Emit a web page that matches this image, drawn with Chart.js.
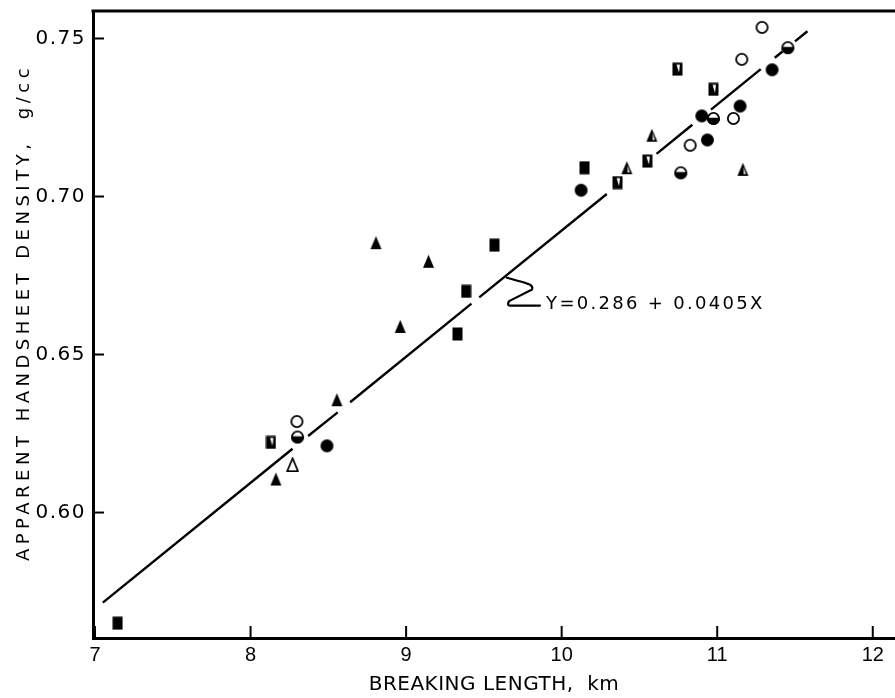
<!DOCTYPE html>
<html><head><meta charset="utf-8">
<script src="https://cdn.jsdelivr.net/npm/chart.js@4/dist/chart.umd.min.js"></script>
<style>html,body{margin:0;padding:0;background:#fff;overflow:hidden}</style>
</head><body>
<canvas id="c" width="895" height="698"></canvas>
<script>
// ---- data ----
const xTicks = [7, 8, 9, 10, 11, 12];
const yTicks = [0.60, 0.65, 0.70, 0.75];
const xTitle = 'BREAKING LENGTH,  km';
const yTitle = 'APPARENT HANDSHEET DENSITY,  g/cc';
const equationText = 'Y=0.286 + 0.0405X';

const solidSquareX = [7.145, 9.330, 9.386, 9.568, 10.147];
const solidSquareY = [0.5650, 0.6565, 0.6700, 0.6846, 0.7091];
const halfSquareX  = [8.131, 10.359, 10.551, 10.744, 10.976];
const halfSquareY  = [0.6222, 0.7044, 0.7112, 0.7403, 0.7339];
const solidTriX    = [8.163, 8.555, 8.806, 8.962, 9.144];
const solidTriY    = [0.6106, 0.6357, 0.6854, 0.6589, 0.6795];
const openTriX     = [8.270];
const openTriY     = [0.6151];
const halfTriX     = [10.419, 10.580, 11.165];
const halfTriY     = [0.7091, 0.7194, 0.7086];
const solidCircX   = [8.491, 10.125, 10.901, 10.937, 11.147, 11.353];
const solidCircY   = [0.6211, 0.7020, 0.7255, 0.7179, 0.7286, 0.7401];
const openCircX    = [8.298, 10.826, 11.104, 11.158, 11.288];
const openCircY    = [0.6288, 0.7162, 0.7247, 0.7434, 0.7535];
const halfCircX    = [8.302, 10.766, 10.976, 11.454];
const halfCircY    = [0.6239, 0.7075, 0.7247, 0.7471];

// regression line pieces (broken where it passes the symbols)
const fitX = [7.05, 8.27, null, 8.37, 8.56, null, 8.64, 9.42, null, 9.47, 10.29, null, 10.61, 10.84, null, 10.96, 11.28, null, 11.37, 11.42, null, 11.50, 11.58];
const fitY = [0.5715, 0.6202, null, 0.6242, 0.6317, null, 0.6349, 0.6661, null, 0.6681, 0.7008, null, 0.7135, 0.7227, null, 0.7275, 0.7403, null, 0.7439, 0.7459, null, 0.7491, 0.7523];

// leader squiggle from the line to the equation label
const leaderX = [9.648, 9.798, 9.810, 9.662, 9.681, 9.861];
const leaderY = [0.6743, 0.6728, 0.6706, 0.6669, 0.6655, 0.6655];
const labelX = 9.900;
const labelY = 0.6660;

// ---- marker drawings ----
function mk(w, h, fn) { const c = document.createElement('canvas'); c.width = w; c.height = h; const g = c.getContext('2d'); fn(g, w, h); return c; }
const K = '#000';
const mSolidSquare = mk(11, 14, (g, w, h) => { g.fillStyle = K; g.fillRect(0.5, 0.5, w - 1, h - 1); });
const mHalfSquare = mk(11, 14, (g, w, h) => {
  g.fillStyle = K; g.fillRect(0.5, 0.5, w - 1, h - 1);
  g.fillStyle = '#fff'; g.beginPath(); g.moveTo(4.5, 2.5); g.lineTo(8, 2.5); g.lineTo(7, 10.5); g.closePath(); g.fill();
});
function triPath(g, w, h) { g.beginPath(); g.moveTo(w / 2, 1); g.lineTo(w - 1, h - 1); g.lineTo(1, h - 1); g.closePath(); }
const mSolidTri = mk(13, 15, (g, w, h) => { g.fillStyle = K; triPath(g, w, h); g.fill(); });
const mOpenTri = mk(13, 15, (g, w, h) => { g.fillStyle = '#fff'; g.strokeStyle = K; g.lineWidth = 1.8; g.lineJoin = 'round'; triPath(g, w, h); g.fill(); g.stroke(); });
const mHalfTri = mk(13, 15, (g, w, h) => {
  g.fillStyle = K; triPath(g, w, h); g.fill();
  g.fillStyle = '#fff'; g.beginPath(); g.moveTo(w / 2 + 0.8, 5); g.lineTo(w - 3.6, h - 2.8); g.lineTo(w / 2 + 0.8, h - 2.8); g.closePath(); g.fill();
});
const mSolidCirc = mk(15, 15, (g, w, h) => { g.fillStyle = K; g.beginPath(); g.arc(w / 2, h / 2, 6.5, 0, Math.PI * 2); g.fill(); });
const mOpenCirc = mk(15, 15, (g, w, h) => { g.fillStyle = '#fff'; g.strokeStyle = K; g.lineWidth = 1.8; g.beginPath(); g.arc(w / 2, h / 2, 5.6, 0, Math.PI * 2); g.fill(); g.stroke(); });
const mHalfCirc = mk(15, 15, (g, w, h) => {
  g.fillStyle = '#fff'; g.beginPath(); g.arc(w / 2, h / 2, 5.6, 0, Math.PI * 2); g.fill();
  g.fillStyle = K; g.beginPath(); g.arc(w / 2, h / 2, 6.5, -0.1, Math.PI + 0.1); g.closePath(); g.fill();
  g.strokeStyle = K; g.lineWidth = 1.8; g.beginPath(); g.arc(w / 2, h / 2, 5.6, 0, Math.PI * 2); g.stroke();
});

function pts(xs, ys) { return xs.map((x, i) => ({ x: x, y: ys[i] })); }
function ds(xs, ys, img) { return { type: 'scatter', data: pts(xs, ys), pointStyle: img, pointRadius: 7, showLine: false }; }

const FONT = "'DejaVu Sans', sans-serif";
const DIGITS = "'Liberation Sans', Arial, sans-serif";

// fix scale box sizes and apply letter spacing / small shifts to its texts
function tune(size, titleSpacing, labelSpacing, titleShift) {
  return s => {
    if (s.isHorizontal()) s.height = size; else s.width = size;
    s.paddingLeft = 0; s.paddingRight = 0; s.paddingTop = 0; s.paddingBottom = 0;
    if (!s._tuned) {
      const dt = s.drawTitle, dl = s.drawLabels;
      s.drawTitle = function () { this.ctx.save(); this.ctx.letterSpacing = titleSpacing; this.ctx.translate(0, titleShift); dt.apply(this, arguments); this.ctx.restore(); };
      s.drawLabels = function () { this.ctx.save(); this.ctx.letterSpacing = labelSpacing; dl.apply(this, arguments); this.ctx.restore(); };
      s._tuned = true;
    }
  };
}

const decor = {
  id: 'decor',
  afterDraw(chart) {
    const { ctx, chartArea: a, scales: { x, y } } = chart;
    ctx.save();
    ctx.strokeStyle = K;
    // top frame line
    ctx.lineWidth = 3;
    ctx.beginPath(); ctx.moveTo(a.left - 1.5, a.top); ctx.lineTo(a.right, a.top); ctx.stroke();
    // inward ticks
    ctx.lineWidth = 2;
    x.ticks.forEach(t => { const px = x.getPixelForValue(t.value); if (px <= a.left + 2) return; ctx.beginPath(); ctx.moveTo(px, a.bottom); ctx.lineTo(px, a.bottom - 12); ctx.stroke(); });
    y.ticks.forEach(t => { const py = y.getPixelForValue(t.value); ctx.beginPath(); ctx.moveTo(a.left, py); ctx.lineTo(a.left + 11, py); ctx.stroke(); });
    // leader squiggle
    ctx.lineWidth = 2.2; ctx.lineJoin = 'round'; ctx.lineCap = 'round';
    ctx.beginPath();
    const p = leaderX.map((v, i) => [x.getPixelForValue(v), y.getPixelForValue(leaderY[i])]);
    ctx.moveTo(p[0][0], p[0][1]);
    ctx.bezierCurveTo(p[1][0] - 8, p[1][1], p[1][0] + 4, p[1][1] + 1, p[2][0], p[2][1]);
    ctx.lineTo(p[3][0], p[3][1]);
    ctx.quadraticCurveTo(p[3][0] - 3, p[4][1] + 1, p[4][0], p[4][1]);
    ctx.lineTo(p[5][0], p[5][1]);
    ctx.stroke();
    // equation label
    ctx.fillStyle = K; ctx.font = '18px ' + FONT; ctx.letterSpacing = '2.3px';
    ctx.textAlign = 'left'; ctx.textBaseline = 'middle';
    ctx.fillText(equationText, x.getPixelForValue(labelX), y.getPixelForValue(labelY));
    ctx.restore();
  }
};

const datasets = [
  { type: 'line', data: pts(fitX, fitY), borderColor: K, borderWidth: 2.4, pointRadius: 0, spanGaps: false, fill: false },
  ds(solidSquareX, solidSquareY, mSolidSquare),
  ds(halfSquareX, halfSquareY, mHalfSquare),
  ds(solidTriX, solidTriY, mSolidTri),
  ds(openTriX, openTriY, mOpenTri),
  ds(halfTriX, halfTriY, mHalfTri),
  ds(solidCircX, solidCircY, mSolidCirc),
  ds(openCircX, openCircY, mOpenCirc),
  ds(halfCircX, halfCircY, mHalfCirc)
];

new Chart(document.getElementById('c'), {
  type: 'scatter',
  data: { datasets: datasets },
  options: {
    responsive: false, animation: false, devicePixelRatio: 1,
    layout: { autoPadding: false, padding: { top: 11, right: 0, left: 0, bottom: 0 } },
    plugins: { legend: { display: false }, tooltip: { enabled: false } },
    scales: {
      x: {
        type: 'linear', min: 6.987, max: 12.143,
        afterBuildTicks: s => { s.ticks = xTicks.map(v => ({ value: v })); },
        afterFit: tune(60, '0.5px', '0px', 0),
        grid: { display: false, drawTicks: false },
        border: { display: true, color: K, width: 3 },
        ticks: { color: K, font: { family: DIGITS, size: 20 }, padding: 5, maxRotation: 0, autoSkip: false, callback: v => String(v) },
        title: { display: true, text: xTitle, color: K, font: { family: FONT, size: 20 }, padding: { top: 0, bottom: 1 } }
      },
      y: {
        type: 'linear', min: 0.5603, max: 0.7587,
        afterBuildTicks: s => { s.ticks = yTicks.map(v => ({ value: v })); },
        afterFit: tune(93, '4.5px', '1.5px', -12),
        grid: { display: false, drawTicks: false },
        border: { display: true, color: K, width: 3 },
        ticks: { color: K, font: { family: FONT, size: 20 }, padding: 7, autoSkip: false, callback: v => v.toFixed(2) },
        title: { display: true, text: yTitle, color: K, font: { family: FONT, size: 18 }, padding: { top: 14, bottom: 0 } }
      }
    }
  },
  plugins: [decor]
});
</script>
</body></html>
